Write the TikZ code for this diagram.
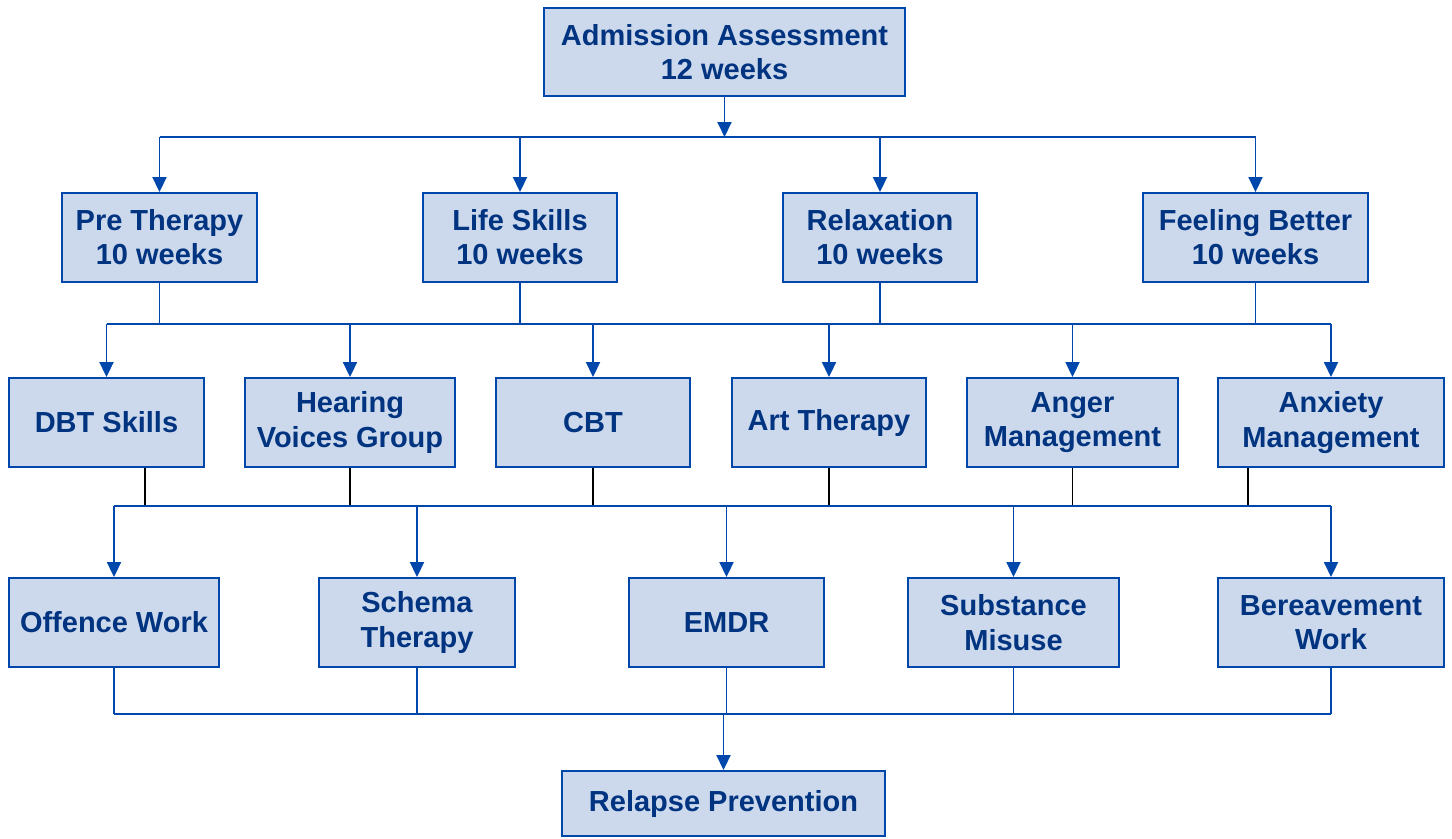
\documentclass[tikz,border=0pt]{standalone}
\usepackage{fontspec}
\setmainfont{Liberation Sans}
\usetikzlibrary{arrows.meta}
\definecolor{boxfill}{RGB}{204,217,236}
\definecolor{boxline}{RGB}{0,71,171}
\definecolor{boxtext}{RGB}{0,51,128}

\begin{document}
\begin{tikzpicture}[x=0.02cm,y=-0.02cm,
    box/.style={draw=boxline,fill=boxfill,line width=1.1pt,text=boxtext,align=center,
      font=\fontsize{16.5}{19.5}\selectfont\bfseries,minimum height=1.78cm,inner sep=2pt},
    link/.style={draw=boxline,line width=1.1pt},
    arr/.style={link,-{Triangle[length=0.3cm,width=0.28cm]}},
    stem/.style={draw=black,line width=1pt}]

    \useasboundingbox (0,0) rectangle (1452,838);

    \node[box,minimum width=7.22cm,minimum height=1.76cm] (adm) at (724.5,52) {Admission Assessment\\12 weeks};

    \node[box,minimum width=3.9cm] (pre) at (159.5,237.5) {Pre Therapy\\10 weeks};
    \node[box,minimum width=3.88cm] (life) at (520,237.5) {Life Skills\\10 weeks};
    \node[box,minimum width=3.88cm] (relax) at (880,237.5) {Relaxation\\10 weeks};
    \node[box,minimum width=4.5cm] (feel) at (1255.5,237.5) {Feeling Better\\10 weeks};

    \node[box,minimum width=3.9cm] (dbt) at (106.5,422.5) {DBT Skills};
    \node[box,minimum width=4.2cm] (hear) at (350,422.5) {Hearing\\Voices Group};
    \node[box,minimum width=3.88cm] (cbt) at (593,422.5) {CBT};
    \node[box,minimum width=3.88cm] (art) at (829,422.5) {Art Therapy};
    \node[box,minimum width=4.22cm] (anger) at (1072.5,422.5) {Anger\\Management};
    \node[box,minimum width=4.52cm] (anx) at (1331,422.5) {Anxiety\\Management};

    \node[box,minimum width=4.2cm] (off) at (114,622.5) {Offence Work};
    \node[box,minimum width=3.92cm] (schema) at (417,622.5) {Schema\\Therapy};
    \node[box,minimum width=3.9cm] (emdr) at (726.5,622.5) {EMDR};
    \node[box,minimum width=4.22cm] (subst) at (1013.5,622.5) {Substance\\Misuse};
    \node[box,minimum width=4.52cm] (ber) at (1331,622.5) {Bereavement\\Work};

    \node[box,minimum width=6.46cm,minimum height=1.3cm] (relapse) at (723.5,803.5) {Relapse Prevention};

    \coordinate (bus1) at (0,137);
    \coordinate (bus2) at (0,324);
    \coordinate (bus3) at (0,506);
    \coordinate (bus4) at (0,714);

    \draw[arr] (adm.south) -- (adm.south |- bus1);
    \draw[link] (pre.north |- bus1) -- (feel.north |- bus1);
    \foreach \n in {pre,life,relax,feel}
        \draw[arr] (\n.north |- bus1) -- (\n.north);

    \foreach \n in {pre,life,relax,feel}
        \draw[link] (\n.south) -- (\n.south |- bus2);
    \draw[link] (dbt.north |- bus2) -- (anx.north |- bus2);
    \foreach \n in {dbt,hear,cbt,art,anger,anx}
        \draw[arr] (\n.north |- bus2) -- (\n.north);

    \draw[stem] ([xshift=0.77cm]dbt.south) -- ([xshift=0.77cm]dbt.south |- bus3);
    \foreach \n in {hear,cbt,art,anger}
        \draw[stem] (\n.south) -- (\n.south |- bus3);
    \draw[stem] ([xshift=-1.66cm]anx.south) -- ([xshift=-1.66cm]anx.south |- bus3);
    \draw[link] (off.north |- bus3) -- (ber.north |- bus3);
    \foreach \n in {off,schema,emdr,subst,ber}
        \draw[arr] (\n.north |- bus3) -- (\n.north);

    \foreach \n in {off,schema,emdr,subst,ber}
        \draw[link] (\n.south) -- (\n.south |- bus4);
    \draw[link] (off.south |- bus4) -- (ber.south |- bus4);
    \draw[arr] (relapse.north |- bus4) -- (relapse.north);

\end{tikzpicture}
\end{document}
